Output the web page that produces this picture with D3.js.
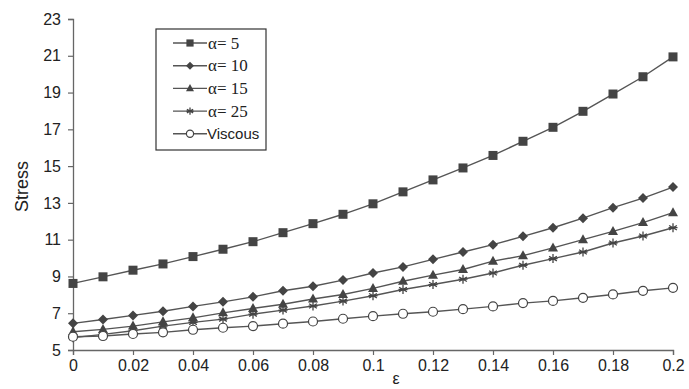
<!DOCTYPE html>
<html>
<head>
<meta charset="utf-8">
<script src="https://cdn.jsdelivr.net/npm/d3@7"></script>
<style>
  body { margin: 0; background: #fff; }
  svg { display: block; }
</style>
</head>
<body>
<svg id="chart" width="689" height="389"></svg>
<script>
// strain values (x axis)
const strain = [0, 0.01, 0.02, 0.03, 0.04, 0.05, 0.06, 0.07, 0.08, 0.09, 0.1,
                0.11, 0.12, 0.13, 0.14, 0.15, 0.16, 0.17, 0.18, 0.19, 0.2];

// stress for each case
const alpha5 = [8.62, 8.98, 9.34, 9.68, 10.08, 10.48, 10.89, 11.38, 11.87, 12.38, 12.95,
                13.6, 14.25, 14.9, 15.58, 16.35, 17.11, 17.98, 18.92, 19.86, 20.94];
const alpha10 = [6.45, 6.66, 6.88, 7.11, 7.37, 7.62, 7.89, 8.22, 8.47, 8.8, 9.19,
                 9.52, 9.93, 10.33, 10.73, 11.18, 11.65, 12.17, 12.74, 13.26, 13.86];
const alpha15 = [5.99, 6.12, 6.3, 6.53, 6.75, 7.02, 7.26, 7.49, 7.77, 8.02, 8.35,
                 8.74, 9.07, 9.38, 9.83, 10.13, 10.55, 11.0, 11.45, 11.93, 12.47];
const alpha25 = [5.67, 5.85, 6.05, 6.3, 6.5, 6.68, 6.95, 7.17, 7.39, 7.66, 7.95,
                 8.29, 8.56, 8.85, 9.19, 9.61, 9.97, 10.33, 10.82, 11.2, 11.65];
const viscous = [5.72, 5.76, 5.87, 5.96, 6.1, 6.21, 6.3, 6.43, 6.55, 6.7, 6.84,
                 6.97, 7.08, 7.22, 7.37, 7.55, 7.67, 7.84, 8.02, 8.22, 8.38];

const seriesNames = ["\u03b1= 5", "\u03b1= 10", "\u03b1= 15", "\u03b1= 25", "Viscous"];
const seriesValues = [alpha5, alpha10, alpha15, alpha25, viscous];
const seriesMarkers = ["square", "diamond", "triangle", "star", "circle"];

const xTicks = [0, 0.02, 0.04, 0.06, 0.08, 0.1, 0.12, 0.14, 0.16, 0.18, 0.2];
const yTicks = [5, 7, 9, 11, 13, 15, 17, 19, 21, 23];

const svg = d3.select("#chart");
const margin = { left: 73, right: 16, top: 19, bottom: 39 };
const width = 689, height = 389;

const x = d3.scaleLinear().domain([0, 0.2]).range([margin.left, width - margin.right]);
const y = d3.scaleLinear().domain([5, 23]).range([height - margin.bottom, margin.top]);

const ink = "#444";
const lineInk = "#555";
const sans = "'Liberation Sans', Arial, sans-serif";
const serif = "'Liberation Serif', 'Times New Roman', serif";

// axes
const xAxis = svg.append("g")
    .attr("transform", `translate(0,${y(5)})`)
    .call(d3.axisBottom(x).tickValues(xTicks).tickSize(5).tickPadding(5)
        .tickFormat(d => d3.format("~g")(d)));
const yAxis = svg.append("g")
    .attr("transform", `translate(${x(0)},0)`)
    .call(d3.axisLeft(y).tickValues(yTicks).tickSize(5).tickPadding(7));

[xAxis, yAxis].forEach(g => {
    g.select(".domain").attr("stroke", "#666").attr("stroke-width", 1.3);
    g.selectAll(".tick line").attr("stroke", "#666").attr("stroke-width", 1.2);
    g.selectAll(".tick text").attr("fill", "#222")
        .style("font-size", "16px").style("font-family", sans);
});

// axis titles
svg.append("text")
    .attr("transform", `translate(28,${(y(5) + y(23)) / 2 + 2}) rotate(-90)`)
    .attr("text-anchor", "middle")
    .attr("fill", "#222")
    .style("font-size", "18px")
    .style("font-family", sans)
    .text("Stress");

svg.append("text")
    .attr("x", x(0.1) + 23)
    .attr("y", 384)
    .attr("text-anchor", "middle")
    .attr("fill", "#222")
    .style("font-size", "16px")
    .style("font-family", sans)
    .text("\u03b5");

// marker drawing, k scales the marker size
function drawMarker(g, kind, cx, cy, k = 1) {
    if (kind === "square") {
        const h = 4.5 * k;
        g.append("rect").attr("x", cx - h).attr("y", cy - h)
            .attr("width", 2 * h).attr("height", 2 * h).attr("fill", ink);
    } else if (kind === "diamond") {
        const h = 5 * k;
        g.append("path")
            .attr("d", `M${cx},${cy - h}L${cx + h},${cy}L${cx},${cy + h}L${cx - h},${cy}Z`)
            .attr("fill", ink);
    } else if (kind === "triangle") {
        g.append("path")
            .attr("d", `M${cx},${cy - 5.5 * k}L${cx + 5 * k},${cy + 3.5 * k}L${cx - 5 * k},${cy + 3.5 * k}Z`)
            .attr("fill", ink);
    } else if (kind === "star") {
        const r = 4.5 * k;
        const d = [0, 60, 120].map(a => {
            const t = (a + 90) * Math.PI / 180;
            return `M${cx - r * Math.cos(t)},${cy - r * Math.sin(t)}L${cx + r * Math.cos(t)},${cy + r * Math.sin(t)}`;
        }).join("") + `M${cx - r},${cy}L${cx + r},${cy}`;
        g.append("path").attr("d", d).attr("stroke", ink).attr("stroke-width", 1.3).attr("fill", "none");
    } else if (kind === "circle") {
        g.append("circle").attr("cx", cx).attr("cy", cy).attr("r", 4.5 * k)
            .attr("fill", "#fff").attr("stroke", ink).attr("stroke-width", 1.2);
    }
}

const line = d3.line().x((d, i) => x(strain[i])).y(d => y(d));

seriesValues.forEach((vals, s) => {
    const g = svg.append("g");
    g.append("path")
        .datum(vals)
        .attr("d", line)
        .attr("fill", "none")
        .attr("stroke", lineInk)
        .attr("stroke-width", 1.4);
    vals.forEach((v, i) => drawMarker(g, seriesMarkers[s], x(strain[i]), y(v)));
});

// legend
const legend = svg.append("g").attr("transform", "translate(156,29)");
legend.append("rect")
    .attr("width", 110).attr("height", 121)
    .attr("fill", "#fff").attr("stroke", "#333").attr("stroke-width", 1.2);

seriesNames.forEach((name, i) => {
    const ly = 14 + i * 22.7;
    const row = legend.append("g");
    row.append("line").attr("x1", 17).attr("x2", 51).attr("y1", ly).attr("y2", ly)
        .attr("stroke", lineInk).attr("stroke-width", 1.4);
    drawMarker(row, seriesMarkers[i], 34, ly, 0.8);
    row.append("text")
        .attr("x", name === "Viscous" ? 51 : 52)
        .attr("y", ly + 5.5)
        .attr("fill", "#222")
        .style("font-size", name === "Viscous" ? "15px" : "17px")
        .style("font-family", name === "Viscous" ? sans : serif)
        .text(name);
});
</script>
</body>
</html>
